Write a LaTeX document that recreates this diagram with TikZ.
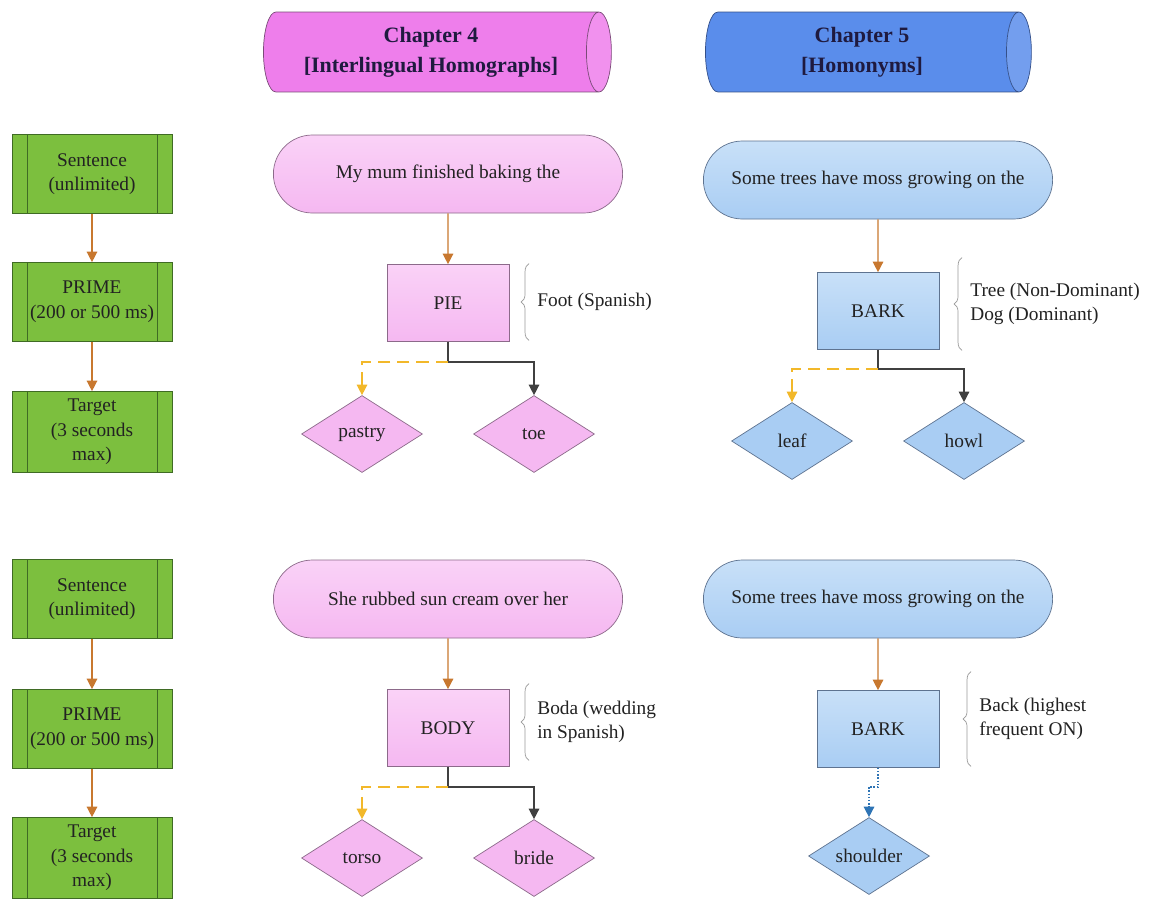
\documentclass[tikz,border=0pt]{standalone}
\usepackage{fontspec}
\setmainfont{LiberationSerif}[Extension=.ttf, UprightFont=*-Regular, BoldFont=*-Bold, ItalicFont=*-Italic, BoldItalicFont=*-BoldItalic]
\usetikzlibrary{shapes.geometric,shapes.misc,arrows.meta,decorations.pathreplacing}

\definecolor{chapfour}{HTML}{EE7EEB}
\definecolor{chapfourline}{HTML}{7A4A78}
\definecolor{chapfive}{HTML}{5A8DEB}
\definecolor{chapfiveline}{HTML}{34508A}
\definecolor{pinktop}{HTML}{FAD2F7}
\definecolor{pinkbottom}{HTML}{F5B8F1}
\definecolor{pinkline}{HTML}{8C6A8A}
\definecolor{bluetop}{HTML}{C8E0F8}
\definecolor{bluebottom}{HTML}{A9CDF3}
\definecolor{blueline}{HTML}{5E7390}
\definecolor{greenfill}{HTML}{7CBF3E}
\definecolor{greenline}{HTML}{3F6B24}
\definecolor{flowarrow}{HTML}{C8782F}
\definecolor{weakarrow}{HTML}{F2B82A}
\definecolor{strongarrow}{HTML}{404040}
\definecolor{otherarrow}{HTML}{2E74B5}
\definecolor{textcol}{HTML}{222222}
\definecolor{headcol}{HTML}{1F1A3F}

\tikzset{
  stepbox/.style={rectangle, draw=greenline, fill=greenfill, minimum width=3.2cm,
    minimum height=1.58cm, align=center,
    path picture={
      \draw[greenline] ([xshift=0.3cm]path picture bounding box.north west)
        -- ([xshift=0.3cm]path picture bounding box.south west);
      \draw[greenline] ([xshift=-0.3cm]path picture bounding box.north east)
        -- ([xshift=-0.3cm]path picture bounding box.south east);}},
  chapter/.style={cylinder, shape aspect=0.5, minimum width=1.6cm, align=center,
    text=headcol, font=\fontsize{12.5}{17}\selectfont\bfseries,
    cylinder uses custom fill, inner sep=0pt},
  sentence/.style={rounded rectangle, minimum width=7.22cm, minimum height=1.56cm},
  pinksent/.style={sentence, draw=pinkline, top color=pinktop, bottom color=pinkbottom},
  bluesent/.style={sentence, draw=blueline, top color=bluetop, bottom color=bluebottom},
  word/.style={rectangle, minimum width=2.44cm, minimum height=1.54cm},
  pinkword/.style={word, draw=pinkline, top color=pinktop, bottom color=pinkbottom},
  blueword/.style={word, draw=blueline, top color=bluetop, bottom color=bluebottom},
  choice/.style={diamond, aspect=1.6, minimum width=2.42cm, minimum height=1.54cm, inner sep=0pt},
  pinkchoice/.style={choice, draw=pinkline, fill=pinkbottom},
  bluechoice/.style={choice, draw=blueline, fill=bluebottom},
  meaning/.style={anchor=west, align=left, inner xsep=0.16cm},
  bracket/.style={draw=gray!80, decorate, decoration={brace, amplitude=4.5pt}},
  tip/.style={-{Triangle[length=6pt,width=6pt]}, line width=0.8pt},
  flow/.style={tip, draw=flowarrow},
  weak/.style={tip, draw=weakarrow, dash pattern=on 7pt off 4pt},
  strong/.style={tip, draw=strongarrow},
  other/.style={tip, draw=otherarrow, densely dotted}
}

\begin{document}
\begin{tikzpicture}[x=0.02cm, y=-0.02cm, font=\rmfamily\fontsize{11}{14}\selectfont, text=textcol]
  \path[use as bounding box, fill=white] (0,0) rectangle (1151,900);

  % chapter headings
  \node[chapter, draw=chapfourline, minimum height=6.96cm, cylinder body fill=chapfour,
    cylinder end fill=chapfour!85!white] (ch4) at (431,52) {Chapter 4\\{[Interlingual Homographs]}};
  \node[chapter, draw=chapfiveline, minimum height=6.52cm, cylinder body fill=chapfive,
    cylinder end fill=chapfive!85!white] (ch5) at (862,52) {Chapter 5\\{[Homonyms]}};

  % trial timing
  \node[stepbox] (s1) at (92,174) {Sentence\\(unlimited)};
  \node[stepbox] (p1) at (92,302) {PRIME\\(200 or 500 ms)};
  \node[stepbox, minimum height=1.62cm] (t1) at (92,432) {Target\\(3 seconds\\max)};
  \node[stepbox] (s2) at (92,599) {Sentence\\(unlimited)};
  \node[stepbox] (p2) at (92,729) {PRIME\\(200 or 500 ms)};
  \node[stepbox, minimum height=1.62cm] (t2) at (92,858) {Target\\(3 seconds\\max)};
  \draw[flow] (s1) to (p1);
  \draw[flow] (p1) to (t1);
  \draw[flow] (s2) to (p2);
  \draw[flow] (p2) to (t2);

  % chapter 4, first trial
  \node[pinksent] (sa) at (448,174) {My mum finished baking the};
  \node[pinkword] (pie) at (448,303) {PIE};
  \node[pinkchoice] (pastry) at (362,434) {pastry};
  \node[pinkchoice] (toe) at (534,434) {toe};
  \node[meaning, minimum height=1.52cm] (foot) at (529,302) {Foot (Spanish)};
  \coordinate (pieb) at ([yshift=-0.4cm]pie.south);
  \draw[flow] (sa) to (pie);
  \draw[strong] (pie.south) -- (pieb) -| (toe);
  \draw[weak] (pieb) -| (pastry);
  \draw[bracket] (foot.south west) -- (foot.north west);

  % chapter 5, first trial
  \node[bluesent] (sb) at (878,180) {Some trees have moss growing on the};
  \node[blueword] (bark) at (878,311) {BARK};
  \node[bluechoice] (leaf) at (792,441) {leaf};
  \node[bluechoice] (howl) at (964,441) {howl};
  \node[meaning, minimum height=1.84cm] (treedog) at (962,304) {Tree (Non-Dominant)\\Dog (Dominant)};
  \coordinate (barkb) at ([yshift=-0.38cm]bark.south);
  \draw[flow] (sb) to (bark);
  \draw[strong] (bark.south) -- (barkb) -| (howl);
  \draw[weak] (barkb) -| (leaf);
  \draw[bracket] (treedog.south west) -- (treedog.north west);

  % chapter 4, second trial
  \node[pinksent] (sc) at (448,599) {She rubbed sun cream over her};
  \node[pinkword] (body) at (448,728) {BODY};
  \node[pinkchoice] (torso) at (362,858) {torso};
  \node[pinkchoice] (bride) at (534,858) {bride};
  \node[meaning, minimum height=1.52cm] (boda) at (529,722) {Boda (wedding\\in Spanish)};
  \coordinate (bodyb) at ([yshift=-0.4cm]body.south);
  \draw[flow] (sc) to (body);
  \draw[strong] (body.south) -- (bodyb) -| (bride);
  \draw[weak] (bodyb) -| (torso);
  \draw[bracket] (boda.south west) -- (boda.north west);

  % chapter 5, second trial
  \node[bluesent] (sd) at (878,599) {Some trees have moss growing on the};
  \node[blueword] (barkc) at (878,729) {BARK};
  \node[bluechoice] (shoulder) at (869,856) {shoulder};
  \node[meaning, minimum height=1.88cm] (back) at (971,719) {Back (highest\\frequent ON)};
  \coordinate (barkcb) at ([yshift=-0.38cm]barkc.south);
  \draw[flow] (sd) to (barkc);
  \draw[other] (barkc.south) -- (barkcb) -| (shoulder);
  \draw[bracket] (back.south west) -- (back.north west);
\end{tikzpicture}
\end{document}
